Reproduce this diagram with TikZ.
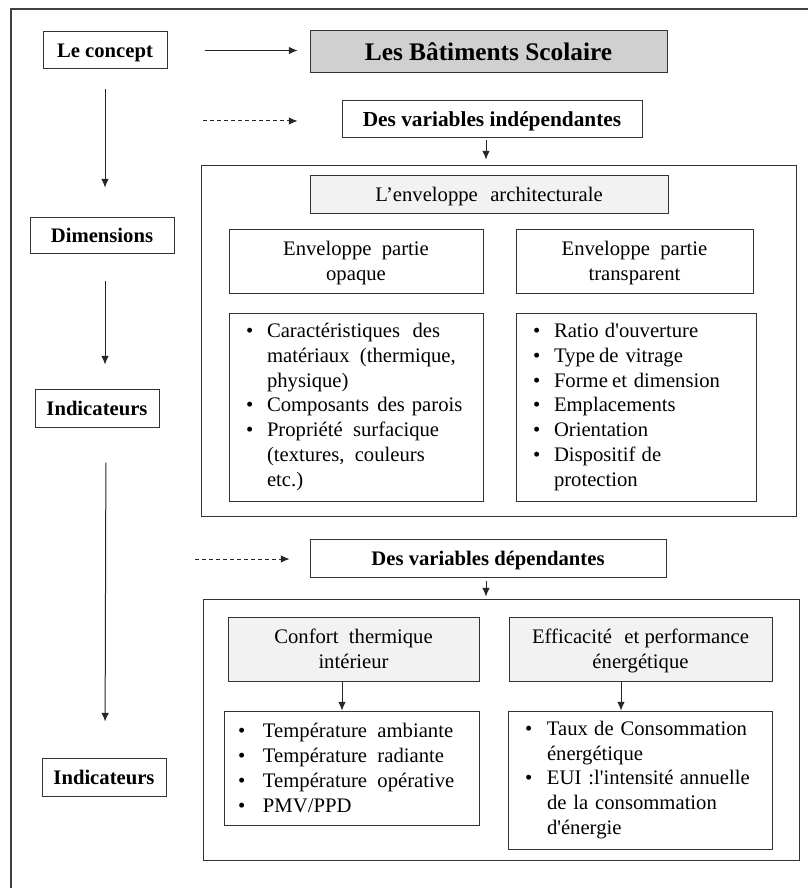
\documentclass[tikz,border=0pt]{standalone}
\usepackage{fontspec}
\setmainfont{Liberation Serif}[Ligatures=TeXOff]
\usetikzlibrary{arrows.meta}

\newlength\px
\setlength\px{0.75pt}
\definecolor{grisfonce}{HTML}{D0D0D0}
\definecolor{grisclair}{HTML}{F2F2F2}
\newcommand{\puce}{\makebox[21\px][l]{\textbullet}}
\newcommand{\retrait}{\hspace*{21\px}}

\tikzset{
  cadre/.style={draw=black!80, line width=1\px, inner sep=0pt, align=center,
    text depth=-2pt, font=\fontsize{15.5}{18.6}\selectfont},
  titre/.style={cadre, fill=grisfonce, font=\fontsize{19}{22}\selectfont\bfseries},
  entete/.style={cadre, font=\fontsize{15.5}{18.6}\selectfont\bfseries},
  bandeau/.style={cadre, fill=grisclair},
  liste/.style={cadre, align=left, text depth={}, inner xsep=#1},
  liste/.default=17\px,
  fleche/.style={-{Latex[length=6.5pt,width=5.75pt]}, line width=0.75pt, black!85},
  pointille/.style={fleche, dash pattern=on 3pt off 2.25pt}
}

\begin{document}
\begin{tikzpicture}[x=0.75pt, y=-0.75pt]
  \useasboundingbox (0,0) rectangle (808,888);
  % cadre general
  \draw[line width=1.1pt, black!75] (808,9) -- (11,9) -- (11,888);

  % colonne de gauche
  \node[entete, minimum width=124\px, minimum height=37\px] (concept) at (105,50.5) {Le concept};
  \node[entete, minimum width=144\px, minimum height=36\px] (dimensions) at (102,235) {Dimensions};
  \node[entete, minimum width=124\px, minimum height=38\px] (indic1) at (97,408) {Indicateurs};
  \node[entete, minimum width=124\px, minimum height=38\px] (indic2) at (104,777) {Indicateurs};

  % titre et variables independantes
  \node[titre, minimum width=357\px, minimum height=42\px] (batiments) at (488.5,52) {Les Bâtiments Scolaire};
  \node[entete, font=\fontsize{16}{19}\selectfont\bfseries, minimum width=300\px, minimum height=37\px] (indep) at (492,119.5) {Des variables indépendantes};
  \node[cadre, minimum width=595\px, minimum height=350\px] (bloc1) at (498.5,341) {};
  \node[bandeau, minimum width=358\px, minimum height=38\px] (enveloppe) at (489,194) {L’enveloppe\hspace{0.6em}architecturale};
  \node[cadre, minimum width=254\px, minimum height=64\px] (opaque) at (356,261) {Enveloppe\hspace{0.5em}partie\\opaque};
  \node[cadre, minimum width=237\px, minimum height=64\px] (transparent) at (634.5,261) {Enveloppe\hspace{0.5em}partie\\transparent};
  \node[liste, text width=220\px, minimum height=188\px] (listeopaque) at (356,407) {%
    \puce Caractéristiques\hspace{0.6em}des\\
    \retrait matériaux\hspace{0.5em}(thermique,\\
    \retrait physique)\\
    \puce Composants\hspace{0.4em}des parois\\
    \puce Propriété\hspace{0.5em}surfacique\\
    \retrait (textures,\hspace{0.5em}couleurs\\
    \retrait etc.)};
  \node[liste, text width=206\px, minimum height=188\px] (listetransp) at (636,407) {%
    \puce Ratio\hspace{0.3em}d'ouverture\\
    \puce Type\hspace{0.2em}de vitrage\\
    \puce Forme\hspace{0.2em}et dimension\\
    \puce Emplacements\\
    \puce Orientation\\
    \puce Dispositif\hspace{0.3em}de\\
    \retrait protection};

  % variables dependantes
  \node[entete, minimum width=356\px, minimum height=38\px] (dep) at (488,558) {Des variables dépendantes};
  \node[cadre, minimum width=596\px, minimum height=261\px] (bloc2) at (501,729.5) {};
  \node[bandeau, minimum width=251\px, minimum height=64\px] (confort) at (353.5,649) {Confort\hspace{0.5em}thermique\\intérieur};
  \node[bandeau, minimum width=263\px, minimum height=64\px] (efficacite) at (640.5,649) {Efficacité\hspace{0.6em}et performance\\énergétique};
  \node[liste=14\px, text width=227\px, minimum height=114\px] (listeconfort) at (351.5,768) {%
    \makebox[25\px][l]{\textbullet}Température\hspace{0.5em}ambiante\\
    \makebox[25\px][l]{\textbullet}Température\hspace{0.5em}radiante\\
    \makebox[25\px][l]{\textbullet}Température\hspace{0.5em}opérative\\
    \makebox[25\px][l]{\textbullet}PMV/PPD};
  \node[liste=12\px, text width=240\px, minimum height=138\px] (listeenergie) at (640,780) {%
    \hspace*{5\px}\makebox[22\px][l]{\textbullet}Taux\hspace{0.3em}de Consommation\\
    \hspace*{27\px}énergétique\\
    \hspace*{5\px}\makebox[22\px][l]{\textbullet}EUI :l'intensité\hspace{0.3em}annuelle\\
    \hspace*{27\px}de la consommation\\
    \hspace*{27\px}d'énergie};

  % fleches horizontales
  \draw[fleche, shorten <=27.75pt, shorten >=9pt] (concept.east) -- (concept.east -| batiments.west);
  \coordinate (depart1) at (203,121);
  \coordinate (depart2) at (195,559);
  \draw[pointille, shorten >=33pt] (depart1) -- (depart1 -| indep.west);
  \draw[pointille, shorten >=15pt] (depart2) -- (depart2 -| dep.west);

  % fleches verticales
  \draw[fleche, shorten <=15pt, shorten >=21.75pt] (concept.south) -- (concept.south |- dimensions.north);
  \draw[fleche, shorten <=20.25pt, shorten >=18pt] (concept.south |- dimensions.south) -- (concept.south |- indic1.north);
  \draw[fleche, shorten <=26.25pt, shorten >=27pt] ([xshift=1\px]concept.south |- indic1.south) -- (concept.south |- indic2.north);
  \draw[fleche, shorten <=1.5pt, shorten >=4.5pt] ([xshift=-6\px]indep.south) -- ([xshift=-6\px]indep.south |- bloc1.north);
  \draw[fleche, shorten <=2.25pt, shorten >=1.5pt] ([xshift=-2\px]dep.south) -- ([xshift=-2\px]dep.south |- bloc2.north);
  \draw[fleche] ([xshift=-11.5\px]confort.south) -- ([xshift=-11.5\px]confort.south |- listeconfort.north);
  \draw[fleche] ([xshift=-19.5\px]efficacite.south) -- ([xshift=-19.5\px]efficacite.south |- listeenergie.north);
\end{tikzpicture}
\end{document}
